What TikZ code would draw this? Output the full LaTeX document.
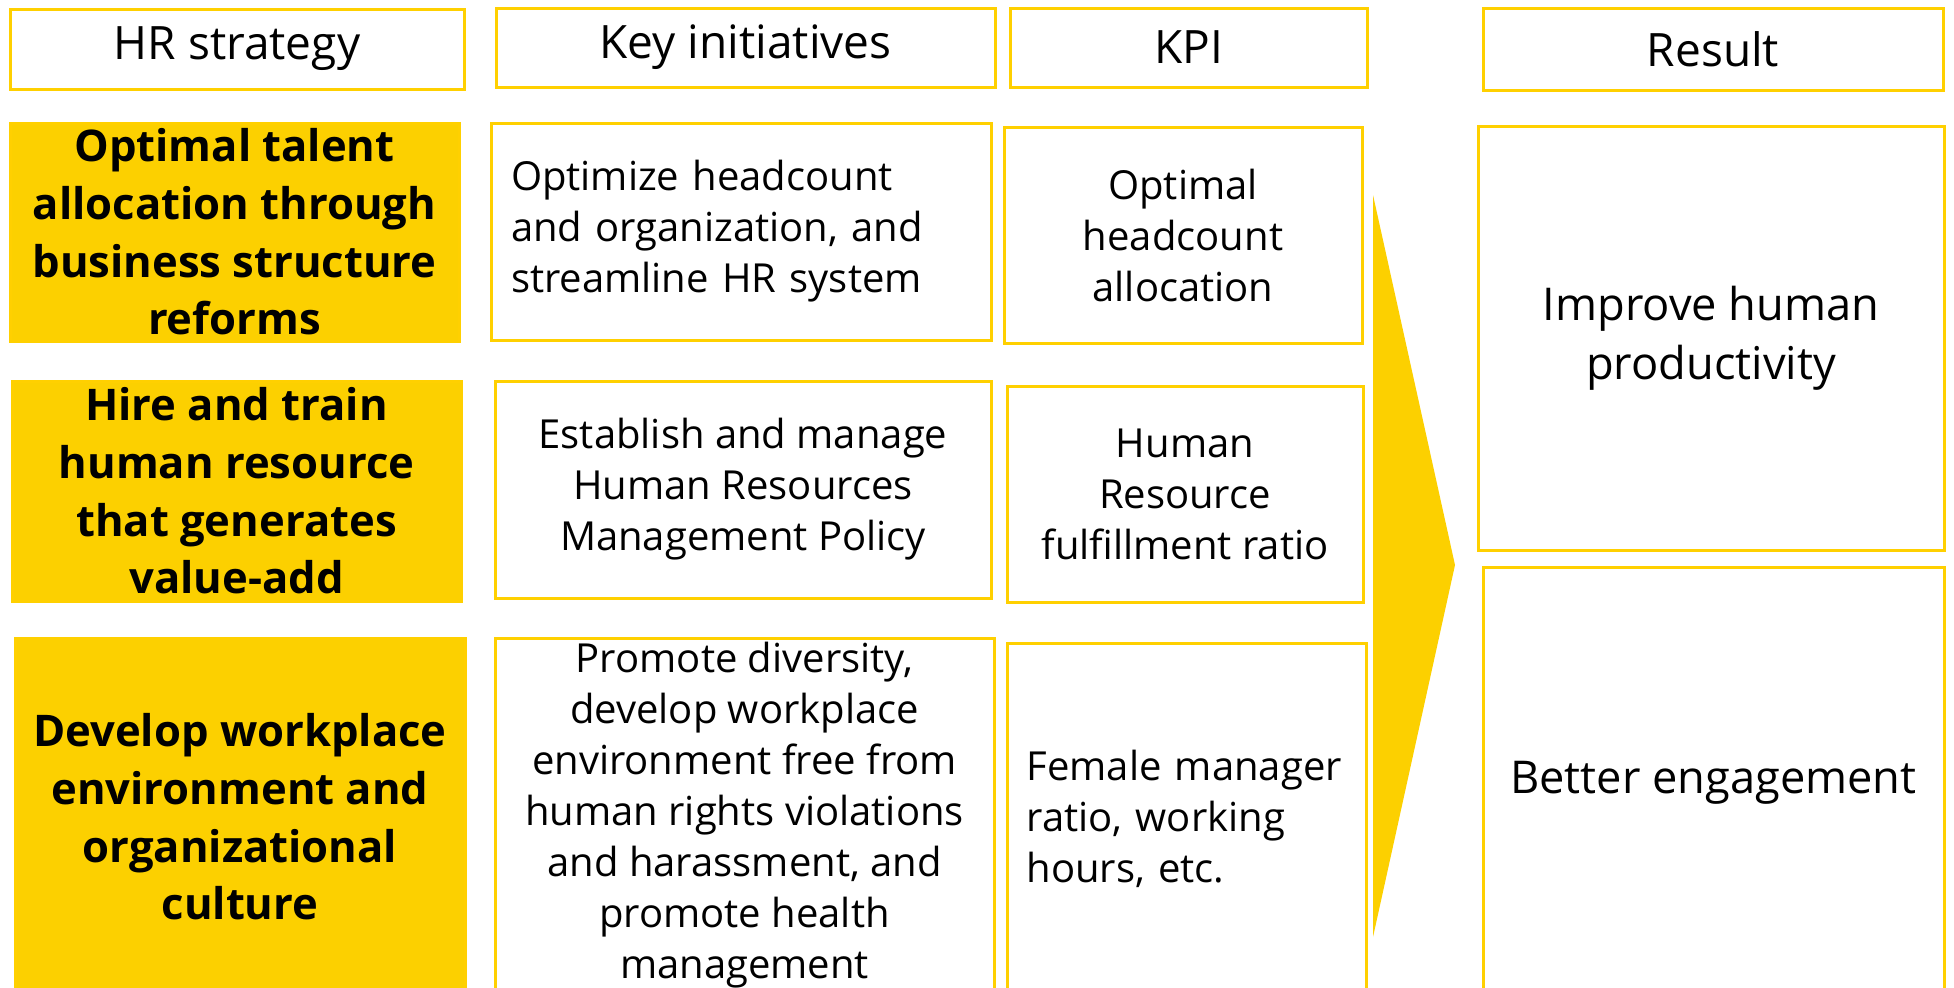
\documentclass[tikz,border=0pt]{standalone}
\usepackage{fontspec}
\setmainfont{Open Sans}
\definecolor{hryellow}{RGB}{252,208,0}
\definecolor{hrline}{RGB}{255,208,0}
\tikzset{
  cell/.style={draw=hrline, line width=1.5pt, inner sep=0pt},
  hdr/.style={cell, font=\fontsize{23pt}{28pt}\selectfont},
  strat/.style={cell, fill=hryellow, align=center, font=\fontsize{21.8pt}{28.8pt}\selectfont\bfseries},
  body/.style={cell, align=center, font=\fontsize{20pt}{25.5pt}\selectfont},
  bodyleft/.style={cell, align=left, font=\fontsize{20pt}{25.5pt}\selectfont},
  res/.style={cell, align=center, font=\fontsize{22.6pt}{29.3pt}\selectfont}
}
\begin{document}
\begin{tikzpicture}[x=0.5pt, y=-0.5pt]
	\clip (0,0) rectangle (1954,987);

	% headers
	\node[hdr, minimum width=227pt, minimum height=40pt] (hdrStrategy) at (237,49) {HR strategy};
	\node[hdr, minimum width=249.5pt, minimum height=39.5pt] (hdrInit) at (745.5,47.5) {Key initiatives};
	\node[hdr, minimum width=178.5pt, minimum height=39.5pt] (hdrKpi) at (1188.5,47.5) {KPI};
	\node[hdr, minimum width=230pt, minimum height=41pt] (hdrResult) at (1713,49) {Result};

	% row 1
	\node[strat, minimum width=224.5pt, minimum height=109pt] (strat1) at (234.5,232)
		{Optimal talent\\allocation through\\business structure\\reforms};
	\node[bodyleft, text width=230pt, minimum width=250pt, minimum height=108.5pt] (init1) at (741,231.5)
		{Optimize headcount\\and organization, and\\streamline HR system};
	\node[body, minimum width=179pt, minimum height=108pt] (kpi1) at (1183,235)
		{Optimal\\headcount\\allocation};

	% row 2
	\node[strat, minimum width=224.5pt, minimum height=110pt] (strat2) at (236.5,491)
		{Hire and train\\human resource\\that generates\\value-add};
	\node[body, minimum width=248pt, minimum height=108.5pt] (init2) at (743,489.5)
		{Establish and manage\\Human Resources\\Management Policy};
	\node[body, minimum width=178pt, minimum height=108pt] (kpi2) at (1185,494)
		{Human\\Resource\\fulfillment ratio};

	% row 3
	\node[strat, minimum width=225pt, minimum height=179pt] (strat3) at (240,817)
		{Develop workplace\\environment and\\organizational\\culture};
	\node[body, minimum width=249.5pt, minimum height=177pt] (init3) at (744.5,815)
		{Promote diversity,\\develop workplace\\environment free from\\human rights violations\\and harassment, and\\promote health\\management};
	\node[bodyleft, text width=160pt, minimum width=179.5pt, minimum height=176pt] (kpi3) at (1186.5,819)
		{Female manager\\ratio, working\\hours, etc.};

	% arrow
	\fill[hryellow] (1373,195) -- (1455,565) -- (1373,937) -- cycle;

	% results
	\node[res, minimum width=233pt, minimum height=212pt] (res1) at (1711,338)
		{Improve human\\productivity};
	\node[res, minimum width=230.5pt, minimum height=216pt] (res2) at (1713.5,783)
		{Better engagement};
\end{tikzpicture}
\end{document}
